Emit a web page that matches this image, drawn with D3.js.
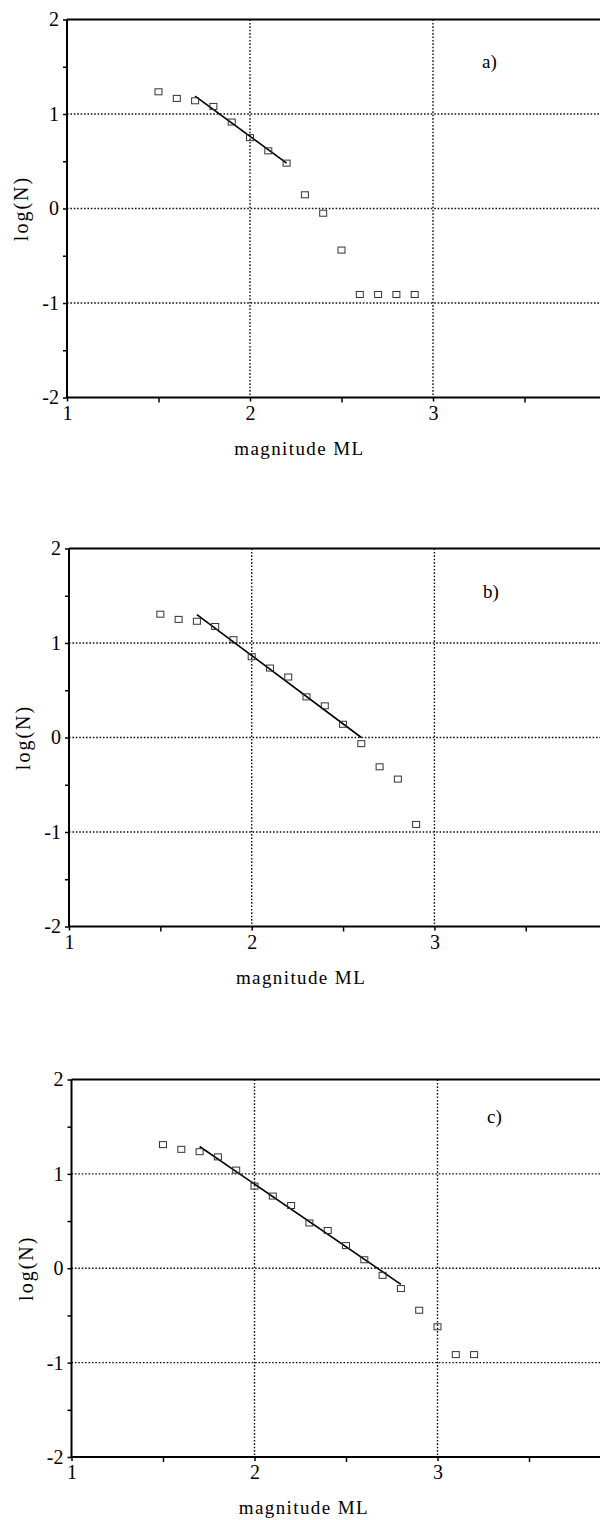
<!DOCTYPE html>
<html><head><meta charset="utf-8">
<script src="https://cdn.jsdelivr.net/npm/d3@7"></script>
<style>
html,body{margin:0;padding:0;background:#fff;}
svg{display:block;}
text{font-family:"Liberation Serif","Times New Roman",serif;fill:#000;}
</style></head>
<body>
<svg id="chart" width="600" height="1520"></svg>
<script>
// ---- data ----
const panelLabels = ["a)", "b)", "c)"];
const magA = [1.5,1.6,1.7,1.8,1.9,2.0,2.1,2.2,2.3,2.4,2.5,2.6,2.7,2.8,2.9];
const logNA = [1.235,1.165,1.14,1.08,0.915,0.75,0.61,0.48,0.145,-0.05,-0.44,-0.91,-0.91,-0.91,-0.91];
const magB = [1.5,1.6,1.7,1.8,1.9,2.0,2.1,2.2,2.3,2.4,2.5,2.6,2.7,2.8,2.9];
const logNB = [1.305,1.25,1.23,1.175,1.035,0.855,0.735,0.64,0.43,0.335,0.14,-0.065,-0.31,-0.44,-0.92];
const magC = [1.5,1.6,1.7,1.8,1.9,2.0,2.1,2.2,2.3,2.4,2.5,2.6,2.7,2.8,2.9,3.0,3.1,3.2];
const logNC = [1.31,1.26,1.235,1.18,1.04,0.87,0.765,0.665,0.48,0.4,0.24,0.09,-0.075,-0.215,-0.445,-0.62,-0.915,-0.915];
const fitA = [[1.7,1.19],[2.2,0.48]];
const fitB = [[1.7,1.30],[2.6,0.0]];
const fitC = [[1.7,1.29],[2.8,-0.17]];
const xMajorTicks = [1,2,3];
const xMinorTicks = [1.5,2.5,3.5];
const yMajorTicks = [-2,-1,0,1,2];
const yMinorTicks = [-1.5,-0.5,0.5,1.5];
const xGrid = [2,3];
const yGrid = [-1,0,1];
const xTitle = "magnitude ML";
const yTitle = "log(N)";

// ---- layout per panel (pixel frame) ----
const panels = [
  {label:panelLabels[0], mag:magA, logN:logNA, fit:fitA, left:67,   top:19.5,   bottom:397.5,  unit:183, lab:[482,68]},
  {label:panelLabels[1], mag:magB, logN:logNB, fit:fitB, left:69,   top:548.5,  bottom:926.5,  unit:182.7, lab:[483,598]},
  {label:panelLabels[2], mag:magC, logN:logNC, fit:fitC, left:71.5, top:1079.5, bottom:1457,   unit:183, lab:[487,1123]}
];

const fmt = d => String(d); // hyphen-minus like the original

const svg = d3.select("#chart");

panels.forEach(p => {
  const x = d3.scaleLinear().domain([1,4]).range([p.left, p.left + 3*p.unit]);
  const y = d3.scaleLinear().domain([-2,2]).range([p.bottom, p.top]);
  const g = svg.append("g");
  const right = 600;

  // grid
  g.selectAll(".vg").data(xGrid).join("line")
    .attr("x1", d=>x(d)).attr("x2", d=>x(d))
    .attr("y1", p.top).attr("y2", p.bottom)
    .attr("stroke","#111").attr("stroke-width",1.4).attr("stroke-dasharray","1.6,1.8");
  g.selectAll(".hg").data(yGrid).join("line")
    .attr("x1", p.left).attr("x2", right)
    .attr("y1", d=>y(d)).attr("y2", d=>y(d))
    .attr("stroke","#111").attr("stroke-width",1.4).attr("stroke-dasharray","1.6,1.8");

  // frame top
  g.append("line").attr("x1", p.left).attr("x2", right)
    .attr("y1", p.top).attr("y2", p.top)
    .attr("stroke","#000").attr("stroke-width",2);

  // y axis
  const yAx = g.append("g").attr("transform",`translate(${p.left},0)`)
    .call(d3.axisLeft(y).tickValues(yMajorTicks).tickSize(4).tickPadding(4).tickFormat(fmt));
  g.append("g").attr("transform",`translate(${p.left},0)`)
    .call(d3.axisLeft(y).tickValues(yMinorTicks).tickSize(4).tickFormat(""))
    .call(s=>s.select(".domain").remove());
  // x axis
  const xAx = g.append("g").attr("transform",`translate(0,${p.bottom})`)
    .call(d3.axisBottom(x).tickValues(xMajorTicks).tickSize(4).tickPadding(4).tickFormat(fmt));
  g.append("g").attr("transform",`translate(0,${p.bottom})`)
    .call(d3.axisBottom(x).tickValues(xMinorTicks).tickSize(5).tickFormat(""))
    .call(s=>s.select(".domain").remove());

  g.selectAll(".domain").attr("stroke","#000").attr("stroke-width",2);
  g.selectAll(".tick line").attr("stroke","#000").attr("stroke-width",1.5);
  g.selectAll(".tick text").attr("font-family","Liberation Serif, serif").attr("font-size",20).attr("fill","#000");
  yAx.selectAll(".domain").attr("d", `M0,${p.bottom}V${p.top}`);
  xAx.selectAll(".domain").attr("d", `M${p.left},0H${right+10}`);

  // fit line
  g.append("line")
    .attr("x1", x(p.fit[0][0])).attr("y1", y(p.fit[0][1]))
    .attr("x2", x(p.fit[1][0])).attr("y2", y(p.fit[1][1]))
    .attr("stroke","#000").attr("stroke-width",1.6);

  // points
  g.selectAll(".pt").data(p.mag.map((m,i)=>[m,p.logN[i]])).join("rect")
    .attr("x", d=>x(d[0])-3.5).attr("y", d=>y(d[1])-3)
    .attr("width",7).attr("height",6)
    .attr("fill","none")
    .attr("stroke","#333").attr("stroke-width",1);

  // panel label
  g.append("text").attr("x", p.lab[0]).attr("y", p.lab[1])
    .attr("font-size",19).text(p.label);

  // titles
  g.append("text")
    .attr("x", p.left + 1.27*p.unit).attr("y", p.bottom + 57)
    .attr("text-anchor","middle").attr("font-size",19).attr("letter-spacing",1.4)
    .text(xTitle);
  g.append("text")
    .attr("transform",`translate(${p.left-39},${y(0)}) rotate(-90)`)
    .attr("text-anchor","middle").attr("font-size",20).attr("letter-spacing",2)
    .text(yTitle);
});
</script>
</body></html>
